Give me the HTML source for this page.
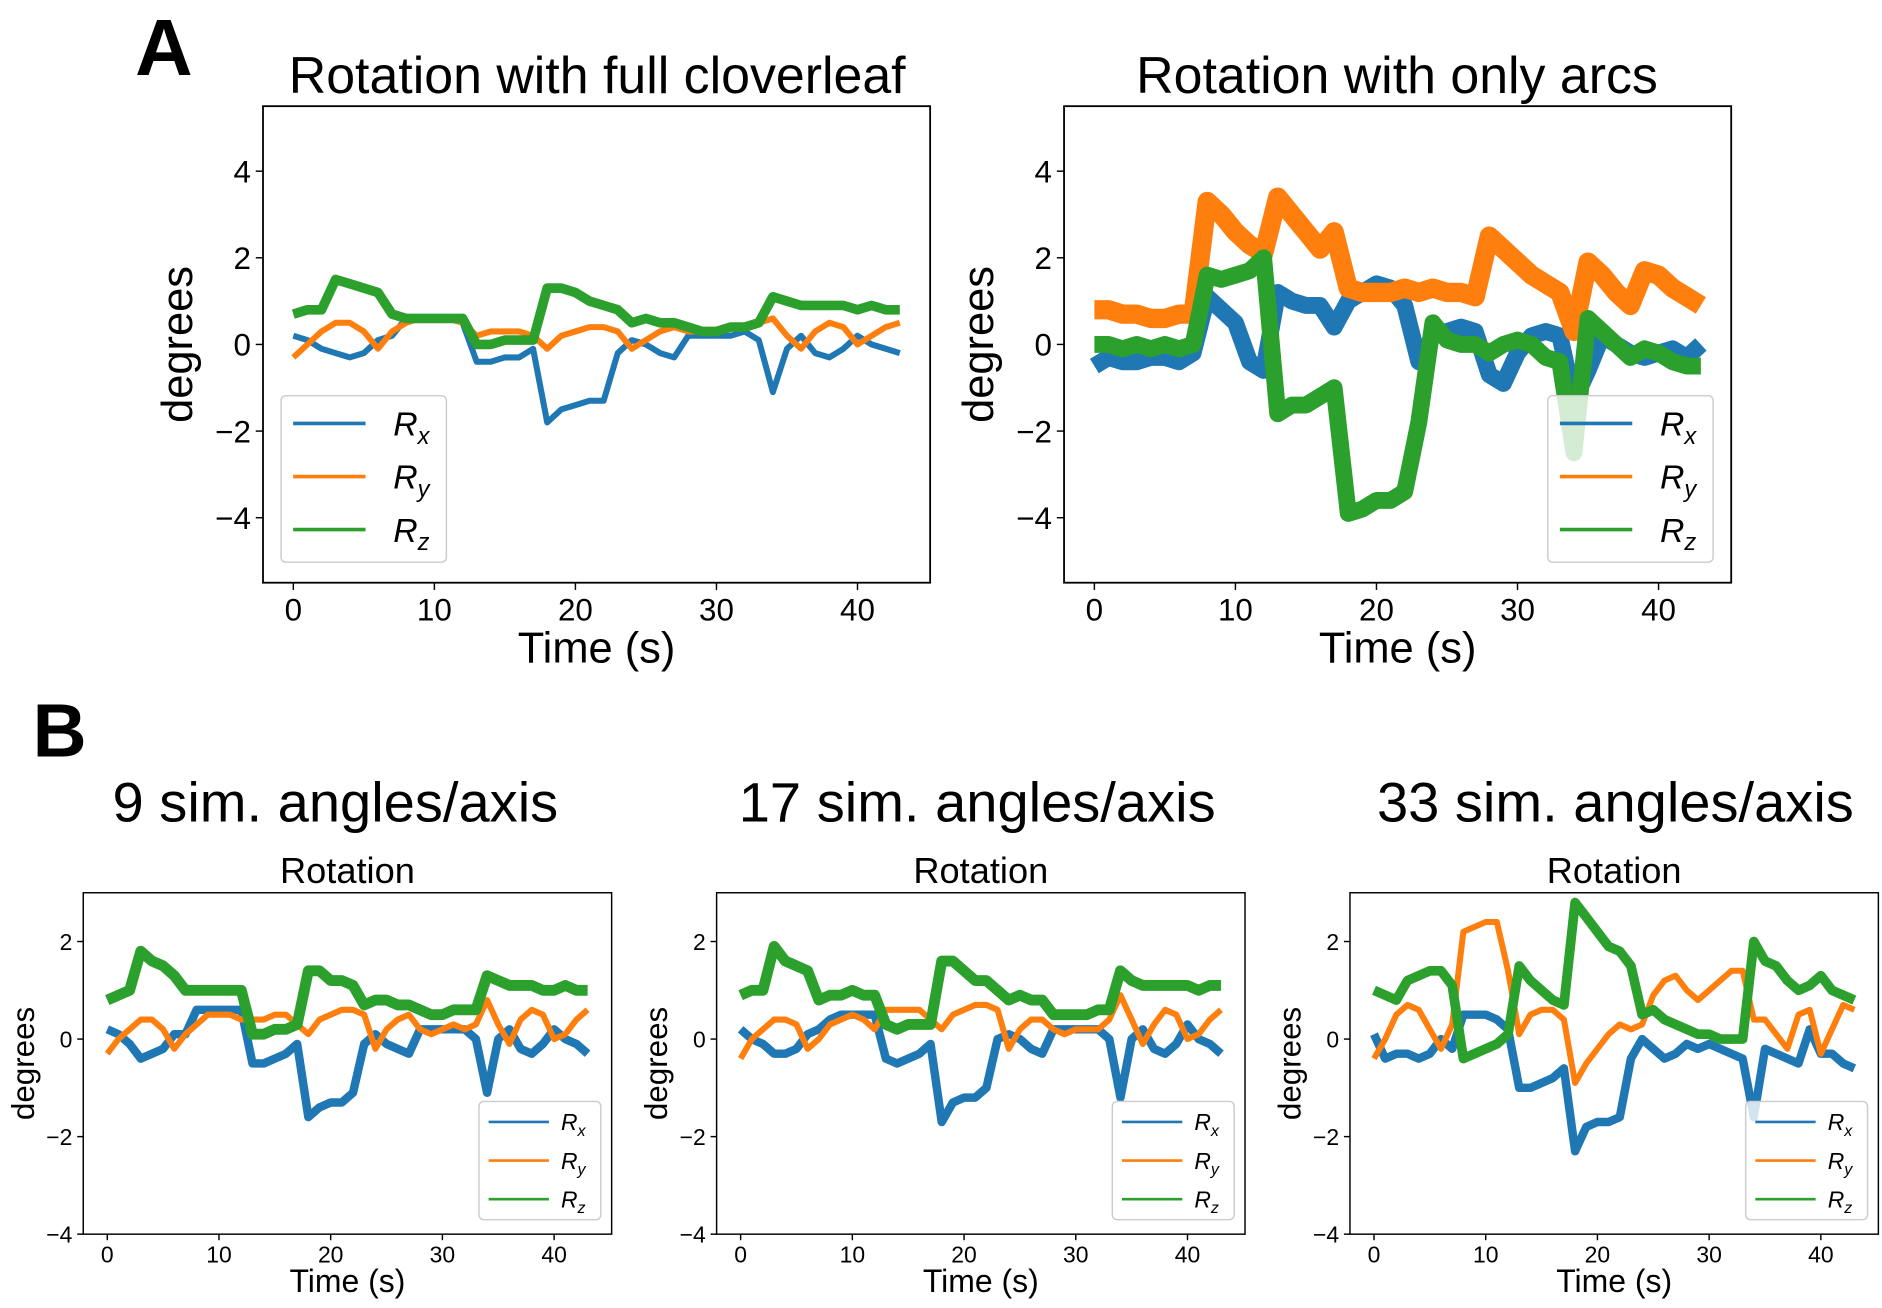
<!DOCTYPE html>
<html><head><meta charset="utf-8">
<style>
html,body{margin:0;padding:0;background:#fff;}
svg{display:block;}
text{font-family:"Liberation Sans","DejaVu Sans",sans-serif;fill:#000;}
</style></head>
<body>
<svg id="fig" width="1882" height="1308" viewBox="0 0 1560 1084.2" xmlns="http://www.w3.org/2000/svg">
<text x="112" y="62" font-size="66" font-weight="bold">A</text>
<text x="27" y="627" font-size="62" font-weight="bold">B</text>
<text x="495" y="77" font-size="43" text-anchor="middle">Rotation with full cloverleaf</text>
<text x="1158" y="77" font-size="43" text-anchor="middle">Rotation with only arcs</text>
<text x="278" y="681" font-size="46.5" text-anchor="middle">9 sim. angles/axis</text>
<text x="810" y="681" font-size="46.5" text-anchor="middle">17 sim. angles/axis</text>
<text x="1339" y="681" font-size="46.5" text-anchor="middle">33 sim. angles/axis</text>
</svg>
<script>
// shared time axis (seconds)
const times = [0,1,2,3,4,5,6,7,8,9,10,11,12,13,14,15,16,17,18,19,20,21,22,23,24,25,26,27,28,29,30,31,32,33,34,35,36,37,38,39,40,41,42,43];
const xTicks = [0,10,20,30,40];
const yTicksA = [-4,-2,0,2,4];
const yTicksB = [-4,-2,0,2];
const seriesNames = ["R_x","R_y","R_z"];

// Panel A1: full cloverleaf
const a1Rx = [0.2,0.1,-0.1,-0.2,-0.3,-0.2,0.1,0.2,0.6,0.6,0.6,0.6,0.5,-0.4,-0.4,-0.3,-0.3,-0.1,-1.8,-1.5,-1.4,-1.3,-1.3,-0.2,0.1,0.0,-0.2,-0.3,0.2,0.2,0.2,0.2,0.3,0.1,-1.1,-0.1,0.2,-0.2,-0.3,-0.1,0.2,0.0,-0.1,-0.2];
const a1Ry = [-0.3,0.0,0.3,0.5,0.5,0.3,-0.1,0.3,0.5,0.6,0.6,0.6,0.5,0.2,0.3,0.3,0.3,0.2,-0.1,0.2,0.3,0.4,0.4,0.3,-0.1,0.1,0.3,0.4,0.3,0.3,0.3,0.4,0.4,0.5,0.6,0.2,-0.1,0.3,0.5,0.4,0.0,0.2,0.4,0.5];
const a1Rz = [0.7,0.8,0.8,1.5,1.4,1.3,1.2,0.7,0.6,0.6,0.6,0.6,0.6,0.0,0.0,0.1,0.1,0.1,1.3,1.3,1.2,1.0,0.9,0.8,0.5,0.6,0.5,0.5,0.4,0.3,0.3,0.4,0.4,0.5,1.1,1.0,0.9,0.9,0.9,0.9,0.8,0.9,0.8,0.8];
// Panel A2: only arcs
const a2Rx = [-0.5,-0.3,-0.4,-0.4,-0.3,-0.3,-0.4,-0.2,1.1,0.8,0.5,-0.4,-0.6,1.2,1.0,0.9,0.9,0.4,1.0,1.2,1.4,1.3,0.9,-0.4,0.2,0.3,0.4,0.3,-0.7,-0.9,-0.2,0.2,0.3,0.2,-1.3,-0.6,0.2,0.0,-0.2,-0.3,-0.2,-0.1,-0.3,0.0];
const a2Ry = [0.8,0.8,0.7,0.7,0.6,0.6,0.7,0.7,3.3,3.0,2.6,2.3,2.1,3.4,3.0,2.6,2.2,2.6,1.3,1.2,1.2,1.2,1.3,1.2,1.3,1.2,1.2,1.1,2.5,2.2,1.9,1.6,1.4,1.2,0.3,1.9,1.6,1.2,0.9,1.7,1.6,1.3,1.1,0.9];
const a2Rz = [0.0,0.0,-0.1,0.0,-0.1,0.0,-0.1,0.0,1.6,1.5,1.6,1.7,2.0,-1.6,-1.4,-1.4,-1.2,-1.0,-3.9,-3.8,-3.6,-3.6,-3.4,-1.8,0.5,0.1,0.0,0.0,-0.2,0.0,0.1,0.0,-0.3,-0.4,-2.5,0.6,0.3,0.0,-0.3,-0.1,-0.2,-0.4,-0.5,-0.5];
// Panel B1: 9 sim angles
const b1Rx = [0.2,0.1,-0.1,-0.4,-0.3,-0.2,0.1,0.1,0.6,0.6,0.6,0.6,0.6,-0.5,-0.5,-0.4,-0.3,-0.1,-1.6,-1.4,-1.3,-1.3,-1.1,-0.1,0.1,-0.1,-0.2,-0.3,0.2,0.2,0.2,0.2,0.2,0.0,-1.1,0.0,0.2,-0.2,-0.3,-0.1,0.2,0.0,-0.1,-0.3];
const b1Ry = [-0.3,0.0,0.2,0.4,0.4,0.2,-0.2,0.1,0.3,0.5,0.5,0.5,0.4,0.4,0.4,0.5,0.5,0.3,0.1,0.4,0.5,0.6,0.6,0.5,-0.2,0.2,0.4,0.5,0.2,0.1,0.2,0.3,0.2,0.3,0.8,0.3,-0.1,0.4,0.6,0.5,0.0,0.1,0.4,0.6];
const b1Rz = [0.8,0.9,1.0,1.8,1.6,1.5,1.3,1.0,1.0,1.0,1.0,1.0,1.0,0.1,0.1,0.2,0.2,0.3,1.4,1.4,1.2,1.2,1.1,0.7,0.8,0.8,0.7,0.7,0.6,0.5,0.5,0.6,0.6,0.6,1.3,1.2,1.1,1.1,1.1,1.0,1.0,1.1,1.0,1.0];
// Panel B2: 17 sim angles
const b2Rx = [0.2,0.0,-0.1,-0.3,-0.3,-0.2,0.1,0.2,0.4,0.5,0.5,0.5,0.5,-0.4,-0.5,-0.4,-0.3,-0.1,-1.7,-1.3,-1.2,-1.2,-1.0,0.0,0.1,0.0,-0.2,-0.3,0.2,0.2,0.2,0.2,0.2,0.0,-1.2,0.0,0.2,-0.2,-0.3,-0.1,0.3,0.0,-0.1,-0.3];
const b2Ry = [-0.4,0.0,0.2,0.4,0.4,0.3,-0.2,0.0,0.3,0.4,0.5,0.4,0.2,0.6,0.6,0.6,0.6,0.4,0.2,0.5,0.6,0.7,0.7,0.6,-0.2,0.2,0.4,0.4,0.2,0.1,0.2,0.2,0.2,0.4,0.9,0.4,-0.1,0.3,0.6,0.5,0.0,0.1,0.4,0.6];
const b2Rz = [0.9,1.0,1.0,1.9,1.6,1.5,1.4,0.8,0.9,0.9,1.0,0.9,0.9,0.3,0.2,0.3,0.3,0.3,1.6,1.6,1.4,1.2,1.2,1.0,0.8,0.9,0.8,0.8,0.5,0.5,0.5,0.5,0.6,0.6,1.4,1.2,1.1,1.1,1.1,1.1,1.1,1.0,1.1,1.1];
// Panel B3: 33 sim angles
const b3Rx = [0.1,-0.4,-0.3,-0.3,-0.4,-0.3,0.0,-0.2,0.5,0.5,0.5,0.4,0.2,-1.0,-1.0,-0.9,-0.8,-0.6,-2.3,-1.8,-1.7,-1.7,-1.6,-0.4,0.0,-0.2,-0.4,-0.3,-0.1,-0.2,-0.1,-0.2,-0.3,-0.4,-1.6,-0.2,-0.3,-0.4,-0.5,0.2,-0.3,-0.3,-0.5,-0.6];
const b3Ry = [-0.4,0.0,0.5,0.7,0.6,0.2,-0.2,0.3,2.2,2.3,2.4,2.4,1.4,0.1,0.5,0.6,0.6,0.4,-0.9,-0.5,-0.2,0.1,0.3,0.2,0.3,0.9,1.2,1.3,1.0,0.8,1.0,1.2,1.4,1.4,0.4,0.4,0.1,-0.2,0.5,0.6,-0.3,0.2,0.7,0.6];
const b3Rz = [1.0,0.9,0.8,1.2,1.3,1.4,1.4,1.1,-0.4,-0.3,-0.2,-0.1,0.1,1.5,1.2,1.0,0.8,0.7,2.8,2.5,2.2,1.9,1.8,1.5,0.5,0.6,0.4,0.3,0.2,0.1,0.1,0.0,0.0,0.0,2.0,1.6,1.5,1.2,1.0,1.1,1.3,1.0,0.9,0.8];

const colors = ["#1f77b4","#ff7f0e","#2ca02c"];
const NS = "http://www.w3.org/2000/svg";
const svg = document.getElementById("fig");
function mk(tag, attrs, parent){const e=document.createElementNS(NS,tag);for(const k in attrs)e.setAttribute(k,attrs[k]);(parent||svg).appendChild(e);return e;}

const panels = [
 {id:"a1", x0:218,y0:88,x1:771,y1:483, ylim:[-5.5,5.5], yt:yTicksA, big:true, data:[a1Rx,a1Ry,a1Rz], sw:[5,5,8], leg:[233,328], yl:147, title:null},
 {id:"a2", x0:882,y0:88,x1:1435,y1:483, ylim:[-5.5,5.5], yt:yTicksA, big:true, data:[a2Rx,a2Ry,a2Rz], sw:[14,16,14], leg:[1283,328], yl:811, title:null},
 {id:"b1", x0:69,y0:740,x1:507,y1:1023, ylim:[-4,3], yt:yTicksB, big:false, data:[b1Rx,b1Ry,b1Rz], sw:[7,5,9], leg:[397,913], yl:19, title:"Rotation"},
 {id:"b2", x0:594,y0:740,x1:1032,y1:1023, ylim:[-4,3], yt:yTicksB, big:false, data:[b2Rx,b2Ry,b2Rz], sw:[7,5,9], leg:[922,913], yl:544, title:"Rotation"},
 {id:"b3", x0:1119,y0:740,x1:1557,y1:1023, ylim:[-4,3], yt:yTicksB, big:false, data:[b3Rx,b3Ry,b3Rz], sw:[7,5,8], leg:[1447,913], yl:1069, title:"Rotation"}
];
const xlim=[-2.15,45.15];

panels.forEach(p=>{
  const g = mk("g",{});
  
  
  const sx = v => p.x0 + (v-xlim[0])/(xlim[1]-xlim[0])*(p.x1-p.x0);
  const sy = v => p.y1 - (v-p.ylim[0])/(p.ylim[1]-p.ylim[0])*(p.y1-p.y0);
  const clip = mk("clipPath",{id:"clip-"+p.id},g);
  mk("rect",{x:p.x0,y:p.y0,width:p.x1-p.x0,height:p.y1-p.y0},clip);
  const fs = p.big?26:19, tl = p.big?6:5;
  p.data.forEach((vals,i)=>{
    let d="";
    vals.forEach((v,k)=>{ d += (k?"L":"M")+sx(times[k]).toFixed(2)+","+sy(v).toFixed(2); });
    const path = mk("path",{d:d,fill:"none",stroke:colors[i],"stroke-width":p.sw[i],"stroke-linejoin":"round","clip-path":"url(#clip-"+p.id+")"},g);
    
    
  });
  const fr = mk("rect",{x:p.x0,y:p.y0,width:p.x1-p.x0,height:p.y1-p.y0,fill:"none",stroke:"#000","stroke-width":p.big?1.5:1.2},g);
  
  
  xTicks.forEach(t=>{
    const x=sx(t);
    mk("line",{x1:x,x2:x,y1:p.y1,y2:p.y1+tl,stroke:"#000","stroke-width":1.2},g);
    const tx = mk("text",{x:x,y:p.y1+tl+fs*0.98,"font-size":fs,"text-anchor":"middle"},g);
    tx.textContent = t;
    
    
  });
  p.yt.forEach(t=>{
    const y=sy(t);
    mk("line",{x1:p.x0-tl,x2:p.x0,y1:y,y2:y,stroke:"#000","stroke-width":1.2},g);
    const tx = mk("text",{x:p.x0-tl-4,y:y+fs*0.36,"font-size":fs,"text-anchor":"end"},g);
    tx.textContent = t<0 ? "\u2212"+Math.abs(t) : String(t);
    
    
  });
  const cx=(p.x0+p.x1)/2, cy=(p.y0+p.y1)/2;
  const xl = mk("text",{x:cx,y:p.big?p.y1+66:p.y1+48,"font-size":p.big?36:26.5,"text-anchor":"middle"},g);
  xl.textContent="Time (s)";
  
  
  const ylx = p.yl + (p.big?12:9);
  const yl = mk("text",{x:ylx,y:cy,"font-size":p.big?36:26,"text-anchor":"middle",transform:"rotate(-90 "+ylx+" "+cy+")"},g);
  yl.textContent="degrees";
  
  
  if(p.title){
    const tt = mk("text",{x:cx,y:p.y0-8,"font-size":30,"text-anchor":"middle"},g);
    tt.textContent=p.title;
    
    
  }
  const lg = mk("g",{},g);
  
  
  const lw = p.big?137:101, lh = p.big?138:98;
  mk("rect",{x:p.leg[0],y:p.leg[1],width:lw,height:lh,rx:4,fill:"#fff","fill-opacity":0.8,stroke:"#ccc","stroke-width":1.2},lg);
  const step = p.big?44:32, off = p.big?23:17;
  seriesNames.forEach((n,i)=>{
    const y = p.leg[1]+off+i*step;
    const ln = mk("line",{x1:p.leg[0]+(p.big?10:8),x2:p.leg[0]+(p.big?70:58),y1:y,y2:y,stroke:colors[i],"stroke-width":p.big?3:2.2},lg);
    
    
    const lfs = p.big?28:19;
    const tx = mk("text",{x:p.leg[0]+(p.big?93:68),y:y+lfs*0.36,"font-size":lfs,"font-style":"italic"},lg);
    
    
    const t1 = mk("tspan",{},tx); t1.textContent="R";
    const t2 = mk("tspan",{"font-size":lfs*0.7,dy:lfs*0.25},tx); t2.textContent=n.split("_")[1];
  });
});
</script>
</body></html>
